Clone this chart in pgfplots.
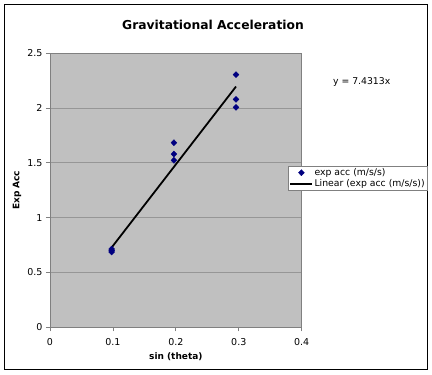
\documentclass[border=0pt]{standalone}
\usepackage{pgfplots}
\pgfplotsset{compat=1.18}
\usepackage{fontspec}
\setmainfont{DejaVu Sans}
\definecolor{plotbg}{RGB}{192,192,192}
\definecolor{gridc}{RGB}{150,150,150}
\definecolor{axc}{RGB}{128,128,128}
\definecolor{navyc}{RGB}{0,0,128}
\begin{document}
\begin{tikzpicture}[x=1pt,y=1pt]
\path[use as bounding box] (0,0) rectangle (432,375);
\draw[line width=1pt] (4.3,5) rectangle (427.7,370.7);
\node[font=\fontsize{12.3}{14}\selectfont\bfseries] at (213,350) {Gravitational Acceleration};
\node[font=\fontsize{9.3}{11}\selectfont] at (361.7,293.3) {y = 7.4313x};
\begin{axis}[
  at={(50pt,47.7pt)}, anchor=south west,
  scale only axis, width=251.7pt, height=274pt,
  xmin=0, xmax=0.4, ymin=0, ymax=2.5,
  xtick={0,0.1,0.2,0.3,0.4},
  ytick={0,0.5,1,1.5,2,2.5},
  yticklabels={0,0.5,1,1.5,2,2.5},
  xticklabels={0,0.1,0.2,0.3,0.4},
  xtick pos=bottom, ytick pos=left,
  tick align=outside, major tick length=4pt,
  tick style={axc, line width=0.8pt},
  axis line style={axc, line width=0.8pt},
  axis background/.style={fill=plotbg},
  ymajorgrids, grid style={gridc, line width=0.8pt},
  ticklabel style={font=\fontsize{9.5}{11}\selectfont},
  xticklabel style={yshift=-3.5pt},
  /pgf/number format/assume math mode=true,
  xlabel={sin (theta)},
  ylabel={Exp Acc},
  xlabel style={font=\fontsize{9}{11}\selectfont\bfseries, at={(axis description cs:0.5,0)}, anchor=center, yshift=-29.4pt},
  ylabel style={font=\fontsize{9}{11}\selectfont\bfseries, at={(axis description cs:0,0.5)}, anchor=center, yshift=33pt},
  clip=false,
  legend style={at={(axis description cs:0.9468,0.5887)}, anchor=north west,
    draw=axc, fill=white, font=\fontsize{9.3}{11}\selectfont,
    inner xsep=1pt, inner ysep=1pt, row sep=0pt,
    nodes={inner sep=1.2pt}},
  legend cell align=left,
  legend image code/.code={\draw[mark repeat=2,mark phase=2,#1] plot coordinates {(0pt,0pt) (11pt,0pt) (22pt,0pt)};},
]
\addplot[only marks, mark=diamond*, mark size=3pt, mark options={xscale=1.3}, color=navyc] coordinates {
  (0.098,0.714) (0.098,0.687) (0.098,0.700)
  (0.197,1.684) (0.197,1.581) (0.197,1.524)
  (0.2956,2.305) (0.2956,2.080) (0.2956,2.007)
};
\addlegendentry{exp acc (m/s/s)}
\addplot[black, line width=1.8pt] coordinates {(0.098,0.7283) (0.2956,2.1967)};
\addlegendentry{Linear (exp acc (m/s/s))}
\end{axis}
\end{tikzpicture}
\end{document}
